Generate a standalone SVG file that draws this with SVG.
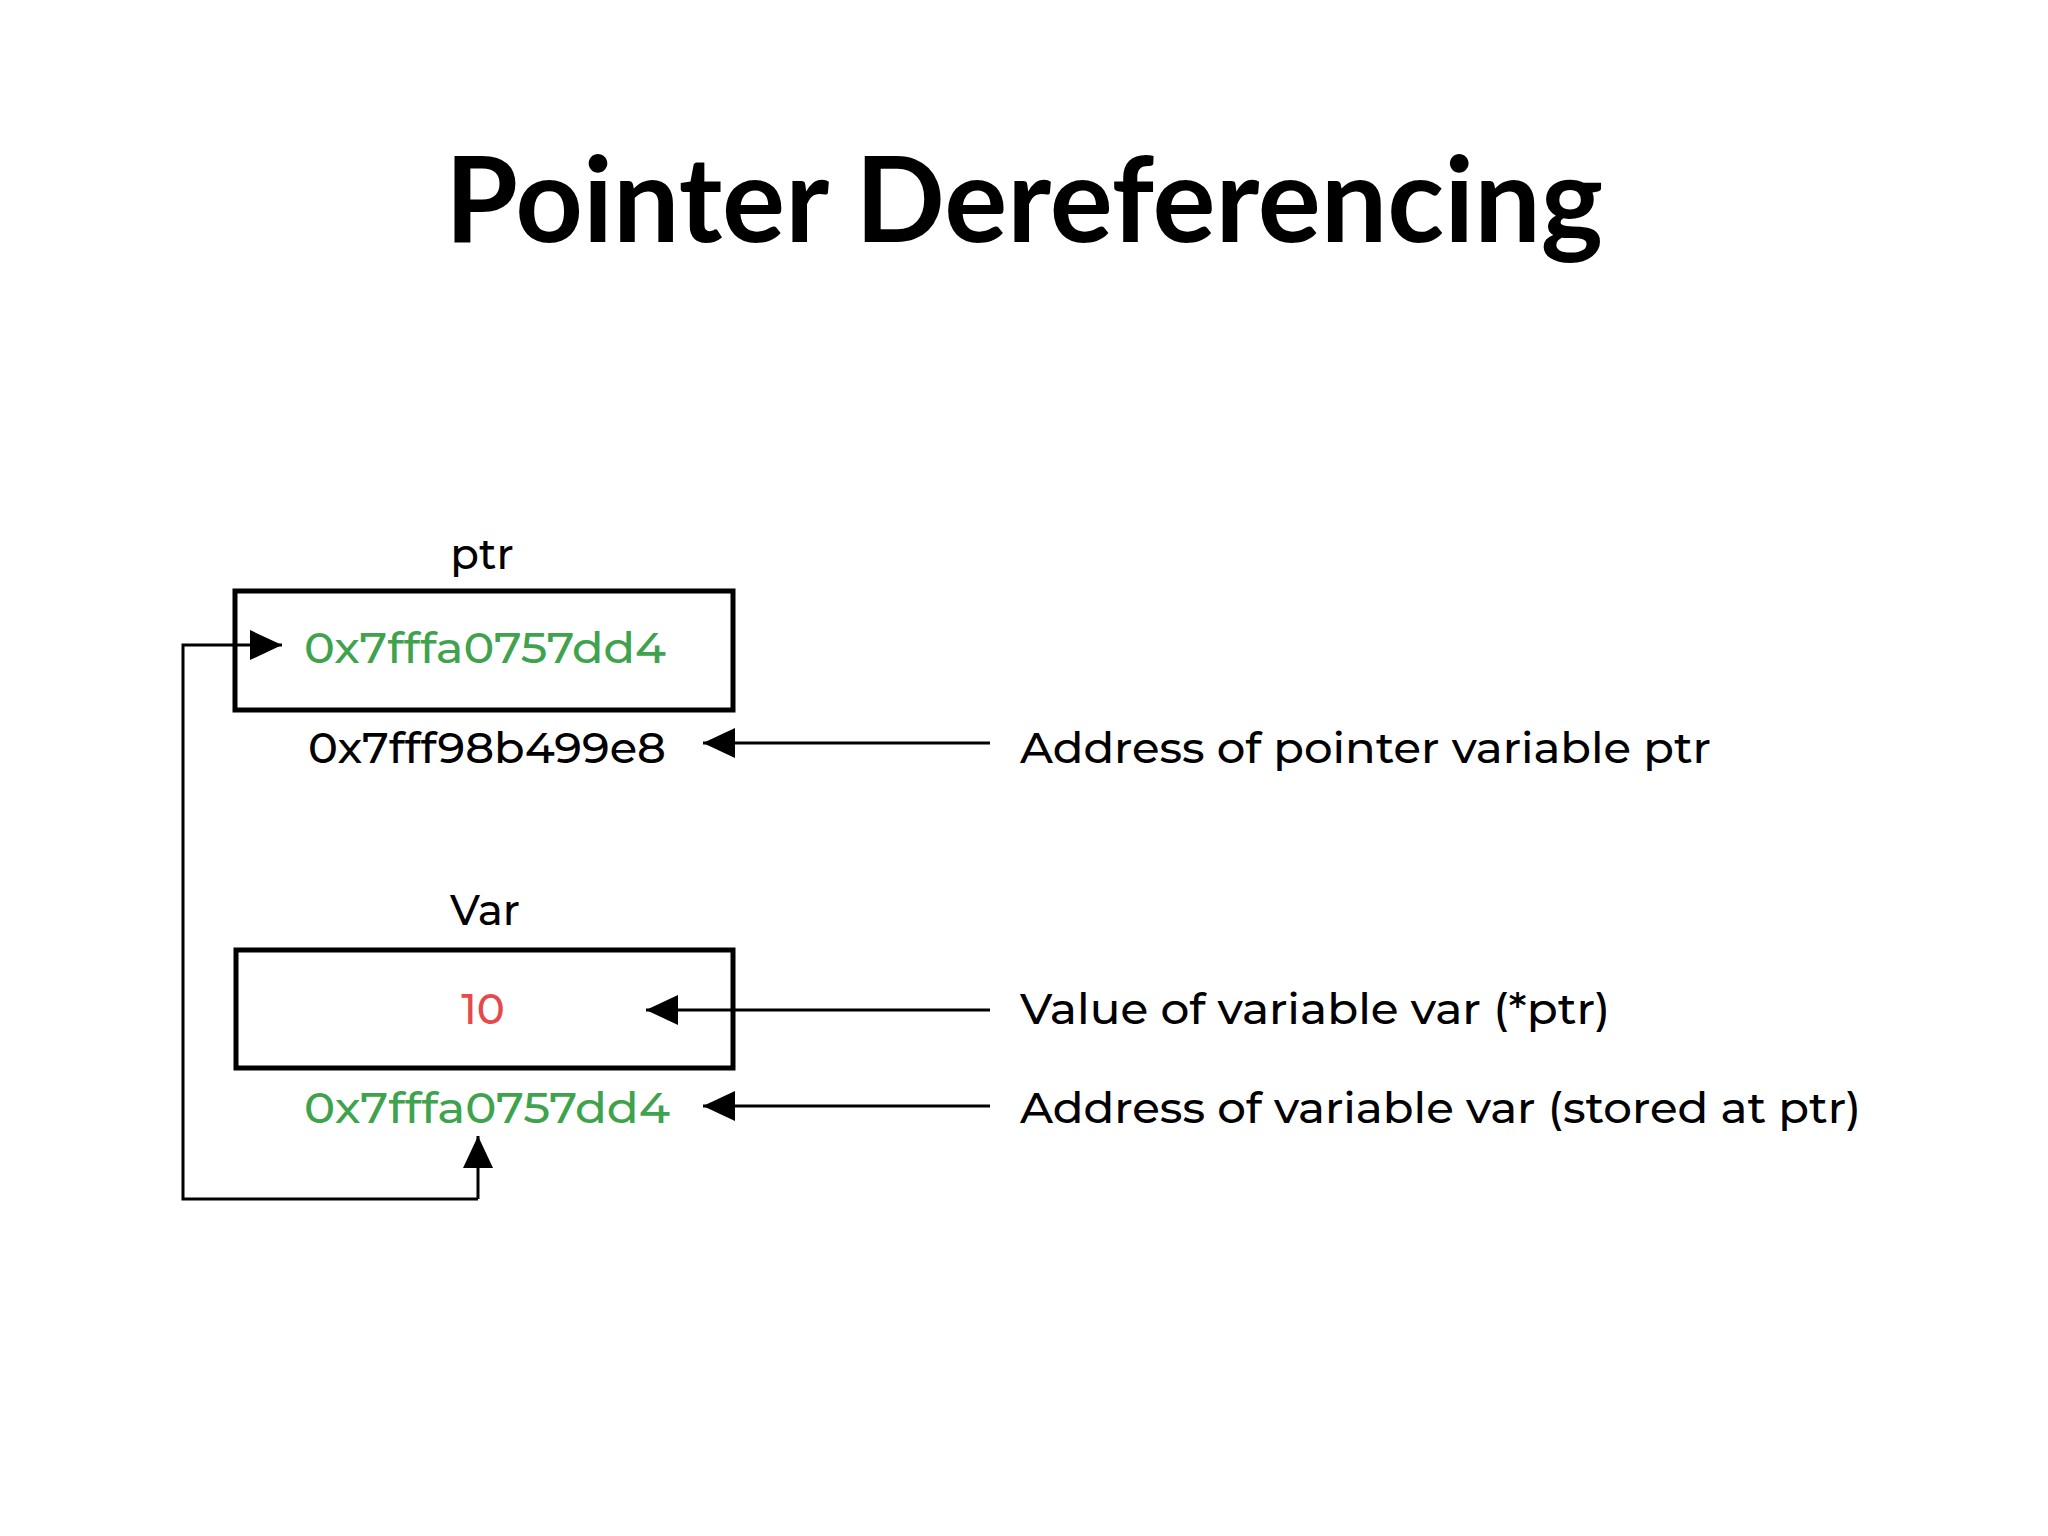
<svg xmlns="http://www.w3.org/2000/svg" width="2048" height="1536" viewBox="0 0 2048 1536">
<style>
.t{font-family:Montserrat,"Open Sans","Noto Sans",sans-serif;font-size:42px;font-weight:500}
.box{fill:none;stroke:#000;stroke-width:5}
.ln{fill:none;stroke:#000;stroke-width:3}
</style>
<defs><marker id="ah" viewBox="0 0 10 10" refX="10" refY="5" markerWidth="10" markerHeight="10" markerUnits="userSpaceOnUse" orient="auto"><path d="M0,0L10,5L0,10z"/></marker>
<marker id="a" viewBox="0 0 32 30" refX="32" refY="15" markerWidth="32" markerHeight="30" markerUnits="userSpaceOnUse" orient="auto"><path d="M0,0L32,15L0,30z"/></marker></defs>
<rect width="2048" height="1536" fill="#fff"/>
<text x="1024" y="242" text-anchor="middle" font-family="Lato,sans-serif" font-weight="bold" font-size="118">Pointer Dereferencing</text>
<g id="ptr">
<text class="t" x="482" y="569" text-anchor="middle">ptr</text>
<rect class="box" x="235" y="591" width="498" height="119"/>
<text class="t" x="304" y="663" fill="#3fa34d" textLength="362" lengthAdjust="spacingAndGlyphs">0x7fffa0757dd4</text>
<text class="t" x="308" y="763" textLength="358" lengthAdjust="spacingAndGlyphs">0x7fff98b499e8</text>
</g>
<g id="var">
<text class="t" x="485" y="925" text-anchor="middle">Var</text>
<rect class="box" x="236" y="950" width="497" height="118"/>
<text class="t" x="483" y="1024" text-anchor="middle" fill="#e8474c">10</text>
<text class="t" x="304" y="1123" fill="#3fa34d" textLength="366" lengthAdjust="spacingAndGlyphs">0x7fffa0757dd4</text>
</g>
<g id="labels">
<text class="t" x="1020" y="763" textLength="691" lengthAdjust="spacingAndGlyphs">Address of pointer variable ptr</text>
<text class="t" x="1020" y="1024" textLength="590" lengthAdjust="spacingAndGlyphs">Value of variable var (*ptr)</text>
<text class="t" x="1020" y="1123" textLength="841" lengthAdjust="spacingAndGlyphs">Address of variable var (stored at ptr)</text>
</g>
<g id="connectors">
<path class="ln" d="M990,743H703" marker-end="url(#a)"/>
<path class="ln" d="M990,1010H646" marker-end="url(#a)"/>
<path class="ln" d="M990,1106H703" marker-end="url(#a)"/>
<path class="ln" d="M478,1199V1136" marker-end="url(#a)"/>
<path class="ln" d="M478,1199H183V645H282" marker-end="url(#a)"/>
</g>
</svg>
